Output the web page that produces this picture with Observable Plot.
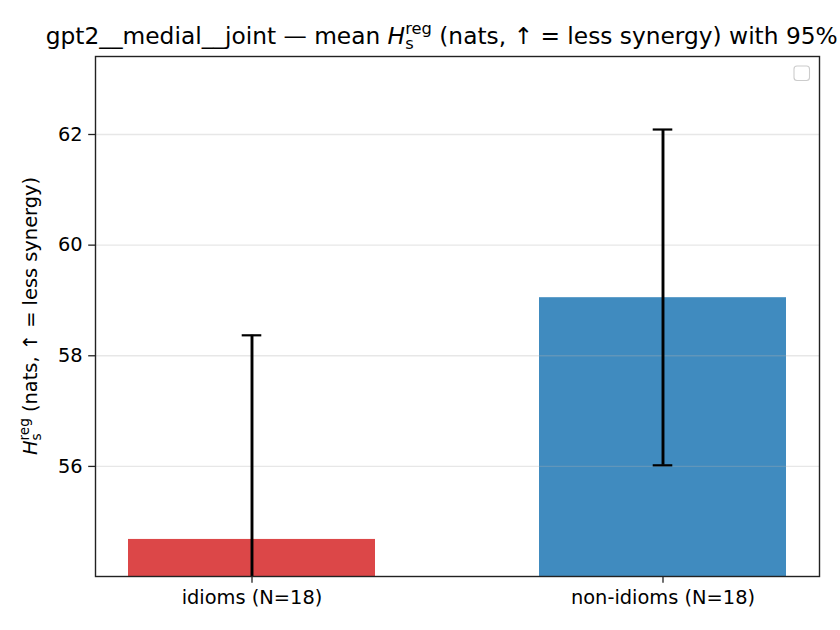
<!DOCTYPE html>
<html><head><meta charset="utf-8">
<script src="https://cdn.jsdelivr.net/npm/d3@7"></script>
<script src="https://cdn.jsdelivr.net/npm/@observablehq/plot@0.6"></script>
<style>
body{margin:0;background:#fff;}
#chart{width:840px;height:630px;overflow:hidden;position:relative;}
</style>
</head><body><div id="chart"></div>
<script>
const categories = ["idioms (N=18)", "non-idioms (N=18)"];
const means = [54.68, 59.05];
const ciLow = [50.99, 56.02];
const ciHigh = [58.37, 62.09];
const yTicks = [56, 58, 60, 62];
const yDomain = [54.01, 63.41];

const rows = categories.map((c, i) => ({cat: c, mean: means[i], lo: ciLow[i], hi: ciHigh[i]}));

const W = 840, H = 630, mL = 95, mR = 21, mT = 56, mB = 54;
const fs = 19.4;      // 10pt at 140 dpi
const titleFs = 23.3; // 12pt at 140 dpi
const bandStep = (W - mL - mR) / (2 - 0.4 + 0.16);
const capInset = (bandStep * 0.6 - 19.4) / 2;

const plot = Plot.plot({
  width: W, height: H,
  marginLeft: mL, marginRight: mR, marginTop: mT, marginBottom: mB,
  style: {fontFamily: "DejaVu Sans", fontSize: fs + "px", color: "#000", background: "#fff", overflow: "hidden"},
  x: {domain: categories, paddingInner: 0.4, paddingOuter: 0.08, label: null},
  y: {domain: yDomain, label: null},
  color: {domain: categories, range: ["#d62728", "#1f77b4"]},
  marks: [
    Plot.barY(rows, {x: "cat", y: "mean", fill: "cat", fillOpacity: 0.85, clip: true}),
    Plot.ruleY(yTicks, {stroke: "#b0b0b0", strokeOpacity: 0.3, strokeWidth: 1.4}),
    Plot.ruleX(rows, {x: "cat", y1: "lo", y2: "hi", stroke: "#000", strokeWidth: 2.9, clip: true}),
    Plot.tickY(rows, {x: "cat", y: "hi", stroke: "#000", strokeWidth: 2.2, insetLeft: capInset, insetRight: capInset, clip: true}),
    Plot.tickY(rows, {x: "cat", y: "lo", stroke: "#000", strokeWidth: 2.2, insetLeft: capInset, insetRight: capInset, clip: true}),
    Plot.axisY({ticks: yTicks, tickSize: 6.8, tickPadding: 6, label: null, fontSize: fs, stroke: "#222", strokeWidth: 1.3}),
    Plot.axisX({tickSize: 6.8, tickPadding: 7, label: null, fontSize: fs, stroke: "#222", strokeWidth: 1.3}),
    Plot.frame({stroke: "#222", strokeWidth: 1.4})
  ]
});
document.getElementById("chart").appendChild(plot);

const svg = d3.select(plot);
const S_WIDTH = 0.521; // advance of "s" in DejaVu Sans, in em

function rich(x, y, before, after, size, rotate) {
  const sub = size * 0.7;
  const t = svg.append("text")
    .attr("transform", `translate(${x},${y}) rotate(${rotate})`)
    .attr("text-anchor", "middle")
    .attr("font-family", "DejaVu Sans")
    .attr("font-size", size)
    .attr("fill", "#000")
    .style("white-space", "pre");
  if (before) t.append("tspan").text(before);
  t.append("tspan").attr("font-style", "italic").text("H");
  t.append("tspan").attr("font-size", sub).attr("dy", size * 0.22).text("s");
  t.append("tspan").attr("font-size", sub).attr("dx", -S_WIDTH * sub).attr("dy", -size * 0.64).text("reg");
  t.append("tspan").attr("dy", size * 0.42).text(after);
}

rich((mL + W - mR) / 2, 44, "gpt2__medial__joint — mean ", " (nats, ↑ = less synergy) with 95% CI", titleFs, 0);
rich(37, (mT + H - mB) / 2, "", " (nats, ↑ = less synergy)", fs, -90);

// empty legend frame (top right)
svg.append("rect")
  .attr("x", W - mR - 25).attr("y", mT + 10)
  .attr("width", 15.5).attr("height", 14.5).attr("rx", 3)
  .attr("fill", "#fff").attr("stroke", "#cccccc").attr("stroke-width", 1.1);
</script>
</body></html>
